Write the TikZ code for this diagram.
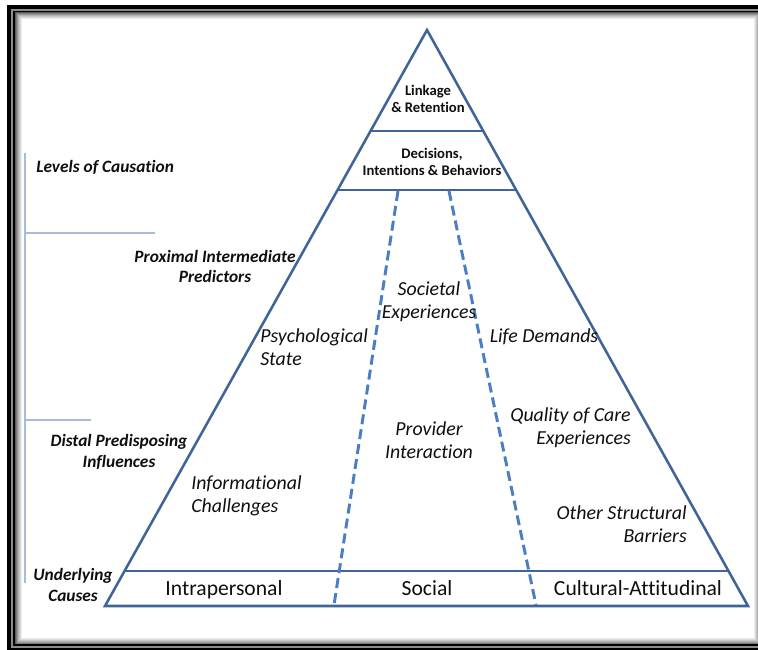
\documentclass[tikz,border=0pt]{standalone}
\usepackage{fontspec}
\setmainfont{Carlito}[Ligatures=NoCommon]
\usetikzlibrary{calc}
\definecolor{pyrblue}{RGB}{62,100,152}
\definecolor{dashblue}{RGB}{74,126,194}
\definecolor{axisblue}{RGB}{165,188,222}
\definecolor{inktext}{RGB}{15,15,15}
\begin{document}
\begin{tikzpicture}[x=0.75pt,y=-0.75pt,
  pyr/.style={draw=pyrblue, line width=1.9pt},
  tier/.style={draw=pyrblue, line width=2.1pt},
  split/.style={draw=dashblue, line width=2.2pt, dash pattern=on 7.5pt off 3.8pt},
  axis/.style={draw=axisblue, line width=1pt},
  lvl/.style={inner sep=0pt, align=center, text=inktext, font=\fontsize{13}{15.5}\selectfont\bfseries\itshape},
  cat/.style={inner sep=0pt, align=center, text=inktext, font=\fontsize{14.9}{17.3}\selectfont\itshape},
  basel/.style={inner sep=0pt, anchor=base, text=inktext, font=\fontsize{16.2}{18}\selectfont},
  topl/.style={inner sep=0pt, align=center, text=inktext, font=\fontsize{11}{12.8}\selectfont\bfseries}]
\useasboundingbox (0,0) rectangle (758,650);
\clip (0,0) rectangle (758,650);
\fill[white] (0,0) rectangle (758,650);

% framed panel: soft inner shadow, then double black rule
\foreach \i/\g in {7/8,6/14,5/22,4/30,3/40,2/52,1/64}{
  \draw[black!\g, line width=0.75pt] (14+\i,11+\i) rectangle (761-\i,645-\i);
}
\draw[black, line width=3pt] (9,7) rectangle (766,650);
\draw[black!45, line width=0.8pt] (12,10) rectangle (763,647);
\draw[black, line width=1.4pt] (14,11.5) rectangle (761,645);

% levels axis on the left
\coordinate (axtop) at (25,153);
\coordinate (axbot) at (25,583);
\coordinate (tick1) at (155,233);
\coordinate (tick2) at (91,420);
\draw[axis] (axtop) -- (axbot);
\draw[axis] (axtop |- tick1) -- (tick1);
\draw[axis] (axtop |- tick2) -- (tick2);

% pyramid outline
\coordinate (apex) at (427,30);
\coordinate (bl) at (105,606);
\coordinate (br) at (748,606);
\draw[pyr] (apex) -- (bl) -- (br) -- cycle;

% tier boundaries
\draw[tier] ($(apex)!0.1753!(bl)$) -- ($(apex)!0.1753!(br)$);
\draw[tier] ($(apex)!0.2778!(bl)$) -- ($(apex)!0.2778!(br)$);
\draw[tier] ($(apex)!0.9392!(bl)$) -- ($(apex)!0.9392!(br)$);

% dashed dividers between the three domains
\coordinate (d1top) at (398,191);
\coordinate (d1bot) at (334,605);
\coordinate (d2top) at (449,191);
\coordinate (d2bot) at (536,605);
\draw[split] (d1top) -- (d1bot);
\draw[split] (d2top) -- (d2bot);

% level labels
\node[lvl, anchor=west] (levels) at (36,167) {Levels of Causation};
\node[lvl] (proximal) at (215,266.5) {Proximal Intermediate\\Predictors};
\node[lvl] (distal) at (119,452) {Distal Predisposing\\Influences};
\node[lvl] (underlying) at (73,585) {Underlying\\Causes};

% top tiers
\node[topl] (linkage) at (428,98.5) {Linkage\\\& Retention};
\node[topl] (decisions) at (432,161.5) {Decisions,\\Intentions \& Behaviors};

% factors within the pyramid
\node[cat, align=left, anchor=west] (psych) at (260,347.5) {Psychological\\State};
\node[cat] (societal) at (429,301.5) {Societal\\Experiences};
\node[cat] (life) at (544,337) {Life Demands};
\node[cat, align=right, anchor=east] (quality) at (631,428) {Quality of Care\\Experiences};
\node[cat] (provider) at (429,440.5) {Provider\\Interaction};
\node[cat, align=left, anchor=west] (info) at (191,495.5) {Informational\\Challenges};
\node[cat, align=right, anchor=east] (other) at (687,524) {Other Structural\\Barriers};

% underlying causes
\node[basel] (intra) at (224,595.5) {Intrapersonal};
\node[basel] (social) at (427,595.5) {Social};
\node[basel] (cultural) at (638,595.5) {Cultural-Attitudinal};
\end{tikzpicture}
\end{document}
